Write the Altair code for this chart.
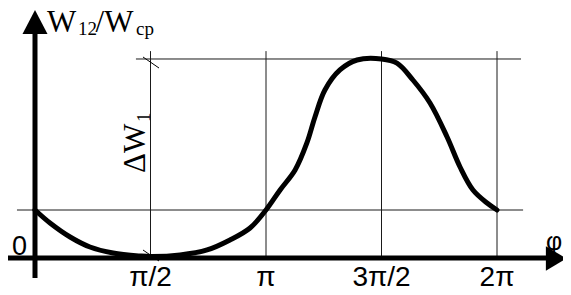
import altair as alt
import pandas as pd

# curve: phi / pi  and  W12/Wcp
phi = [0.0, 0.065, 0.152, 0.238, 0.338, 0.455, 0.506, 0.628, 0.745, 0.844, 0.931, 1.0,
       1.061, 1.126, 1.177, 1.212, 1.255, 1.32, 1.394, 1.5, 1.567, 1.636, 1.71, 1.784,
       1.84, 1.896, 1.957, 2.0]
w = [1.0, 0.729, 0.4375, 0.229, 0.104, 0.042, 0.03, 0.0625, 0.167, 0.375, 0.625, 1.0,
     1.417, 1.833, 2.396, 2.9375, 3.5, 3.917, 4.125, 4.146, 4.06, 3.708, 3.229, 2.521,
     1.896, 1.417, 1.146, 1.0]

tick_pos = [0.5, 1.0, 1.5, 2.0]
tick_labels = ["π/2", "π", "3π/2", "2π"]
peak = 4.146
base = 1.0

XMIN, XMAX = -0.116883, 2.285714
YMIN, YMAX = -0.75, 5.208333

xs = alt.Scale(domain=[XMIN, XMAX], nice=False, zero=False)
ys = alt.Scale(domain=[YMIN, YMAX], nice=False, zero=False)

def X(f="x"):
    return alt.X(f"{f}:Q", scale=xs, axis=None)

def Y(f="y"):
    return alt.Y(f"{f}:Q", scale=ys, axis=None)

curve_df = pd.DataFrame({"x": phi, "y": w})

# thin guide lines
guides = pd.DataFrame({
    "x":  [-0.078, 0.437] + tick_pos,
    "x2": [2.113, 2.104] + tick_pos,
    "y":  [base, peak] + [0.0] * 4,
    "y2": [base, peak] + [4.31] * 4,
})
guide_layer = alt.Chart(guides).mark_rule(color="#1a1a1a", strokeWidth=1).encode(
    x=X(), x2="x2:Q", y=Y(), y2="y2:Q")

slashes = pd.DataFrame({
    "x": [0.4675, 0.4675], "x2": [0.5368, 0.5368],
    "y": [4.1875, 0.1667], "y2": [3.958, -0.0625],
})
slash_layer = alt.Chart(slashes).mark_rule(color="black", strokeWidth=1).encode(
    x=X(), x2="x2:Q", y=Y(), y2="y2:Q")

curve_layer = alt.Chart(curve_df).mark_line(
    color="black", strokeWidth=5, interpolate="catmull-rom", strokeCap="round"
).encode(x=X(), y=Y(), order="x:Q")

axes = pd.DataFrame({
    "x": [-0.13, 0.0], "x2": [2.229, 0.0],
    "y": [0.0, -0.417], "y2": [0.0, 4.75],
})
axis_layer = alt.Chart(axes).mark_rule(color="black", strokeWidth=5).encode(
    x=X(), x2="x2:Q", y=Y(), y2="y2:Q")

arrow_up = alt.Chart(pd.DataFrame({"x": [0.0], "y": [4.917]})).mark_point(
    shape="M0,-0.96L-1,0.96L1,0.96Z", filled=True, fill="black", stroke=None,
    opacity=1, size=625
).encode(x=X(), y=Y())
arrow_right = alt.Chart(pd.DataFrame({"x": [2.256], "y": [-0.01]})).mark_point(
    shape="M0.84,0L-0.84,-1L-0.84,1Z", filled=True, fill="black", stroke=None,
    opacity=1, size=600
).encode(x=X(), y=Y())

tick_df = pd.DataFrame({"x": tick_pos, "y": [-0.59] * 4, "t": tick_labels})
tick_text = alt.Chart(tick_df).mark_text(
    font="Liberation Sans", fontSize=28, baseline="alphabetic", align="center", color="black"
).encode(x=X(), y=Y(), text="t:N")

zero_text = alt.Chart(pd.DataFrame({"x": [-0.067], "y": [0.0625], "t": ["0"]})).mark_text(
    font="Liberation Sans", fontSize=27, baseline="alphabetic", align="center", color="black"
).encode(x=X(), y=Y(), text="t:N")
phi_text = alt.Chart(pd.DataFrame({"x": [2.247], "y": [0.333], "t": ["φ"]})).mark_text(
    font="Liberation Sans", fontSize=25, baseline="middle", align="center", color="black"
).encode(x=X(), y=Y(), text="t:N")

title_df = pd.DataFrame({
    "x": [0.052, 0.186, 0.262, 0.437],
    "y": [4.708, 4.646, 4.708, 4.646],
    "t": ["W", "12", "/W", "cp"],
    "s": [31, 19, 31, 19],
})
title_text = alt.Chart(title_df).mark_text(
    font="Liberation Serif", baseline="alphabetic", align="left", color="black"
).encode(x=X(), y=Y(), text="t:N", size=alt.Size("s:Q", scale=None, legend=None))

dw_df = pd.DataFrame({
    "x": [0.476, 0.498],
    "y": [1.771, 2.833],
    "t": ["ΔW", "1"],
    "s": [31, 19],
})
dw_text = alt.Chart(dw_df).mark_text(
    font="Liberation Serif", baseline="alphabetic", align="left", angle=270, color="black"
).encode(x=X(), y=Y(), text="t:N", size=alt.Size("s:Q", scale=None, legend=None))

chart = alt.layer(
    guide_layer, slash_layer, curve_layer, axis_layer, arrow_up, arrow_right,
    tick_text, zero_text, phi_text, title_text, dw_text
).properties(
    width=555, height=286, padding=0,
    autosize=alt.AutoSizeParams(type="none"),
    background="white"
).configure_view(stroke=None)

chart.save("out.html", embed_options={"renderer": "svg", "actions": False})
